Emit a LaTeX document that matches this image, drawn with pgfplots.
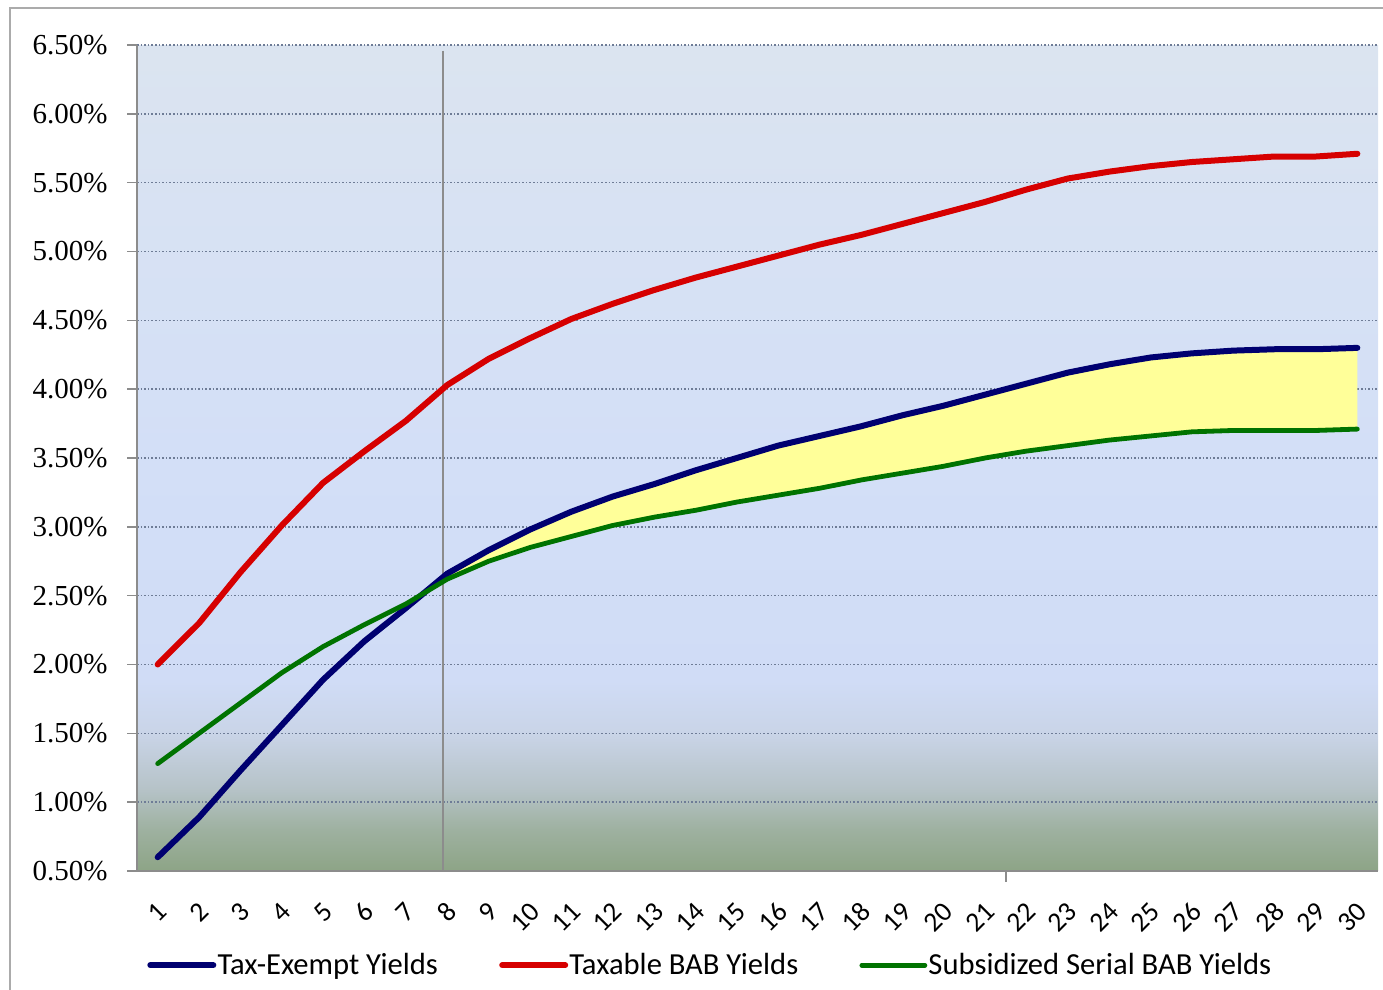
\documentclass[border=0pt]{standalone}
\usepackage{pgfplots}
\pgfplotsset{compat=1.18}
\usepackage{pgfplotstable}
\usepgfplotslibrary{fillbetween}
\usepackage{fontspec}
\setmainfont{Carlito}
\newfontfamily\yfont{Liberation Serif}

% series colours
\definecolor{taxexempt}{RGB}{0,0,112}
\definecolor{taxable}{RGB}{214,0,0}
\definecolor{subsid}{RGB}{0,115,0}
\definecolor{spread}{RGB}{255,255,153}
\definecolor{gridc}{RGB}{110,124,150}
\definecolor{axisc}{RGB}{140,140,140}

% plot-area background, green-grey at the bottom fading into blue
\definecolor{bg0}{RGB}{141,164,134}
\definecolor{bg1}{RGB}{158,177,160}
\definecolor{bg2}{RGB}{182,195,200}
\definecolor{bg3}{RGB}{201,212,231}
\definecolor{bg4}{RGB}{208,220,246}
\definecolor{bg5}{RGB}{211,223,247}
\definecolor{bg6}{RGB}{219,228,240}
\pgfdeclareverticalshading{plotbg}{100bp}{%
  color(0bp)=(bg0); color(25bp)=(bg0); color(27.5bp)=(bg1);
  color(30bp)=(bg2); color(33.3bp)=(bg3); color(36.5bp)=(bg4);
  color(50bp)=(bg5); color(75bp)=(bg6); color(100bp)=(bg6)}

% yields in percent by maturity (years)
\pgfplotstableread{
x  tax   bab   sub
1  0.60  2.00  1.28
2  0.89  2.30  1.50
3  1.23  2.67  1.72
4  1.56  3.01  1.94
5  1.89  3.32  2.13
6  2.17  3.55  2.29
7  2.41  3.77  2.44
8  2.66  4.03  2.62
9  2.83  4.22  2.75
10 2.98  4.37  2.85
11 3.11  4.51  2.93
12 3.22  4.62  3.01
13 3.31  4.72  3.07
14 3.41  4.81  3.12
15 3.50  4.89  3.18
16 3.59  4.97  3.23
17 3.66  5.05  3.28
18 3.73  5.12  3.34
19 3.81  5.20  3.39
20 3.88  5.28  3.44
21 3.96  5.36  3.50
22 4.04  5.45  3.55
23 4.12  5.53  3.59
24 4.18  5.58  3.63
25 4.23  5.62  3.66
26 4.26  5.65  3.69
27 4.28  5.67  3.70
28 4.29  5.69  3.70
29 4.29  5.69  3.70
30 4.30  5.71  3.71
}\yields

\begin{document}
\begin{tikzpicture}
% outer chart frame
\draw[color=black!33, line width=1bp] (5bp,-10bp) -- (5bp,491bp) -- (720bp,491bp);
\begin{axis}[
  at={(68.5bp,59.5bp)}, anchor=south west,
  width=620.5bp, height=413bp, scale only axis,
  clip=false,
  xmin=0.5, xmax=30.5, ymin=0.5, ymax=6.5,
  axis background/.style={shading=plotbg},
  axis x line*=bottom, axis y line*=left,
  axis line style={axisc, line width=0.8bp},
  ytick={0.5,1,1.5,2,2.5,3,3.5,4,4.5,5,5.5,6,6.5},
  yticklabels={0.50\%,1.00\%,1.50\%,2.00\%,2.50\%,3.00\%,3.50\%,4.00\%,4.50\%,5.00\%,5.50\%,6.00\%,6.50\%},
  yticklabel style={font=\yfont\fontsize{14.5bp}{16bp}\selectfont, anchor=east, inner sep=0pt, xshift=-9.5bp},
  ytick style={axisc, line width=0.8bp},
  ytick align=outside, major tick length=5bp,
  xtick={1,2,...,30},
  xtick style={draw=none},
  /pgf/number format/assume math mode=true,
  xticklabel style={font=\fontsize{13.8bp}{15bp}\selectfont, inner sep=0pt, xshift=2.5bp, yshift=-18bp, rotate=45, anchor=east},
  ymajorgrids,
  major grid style={gridc, line width=0.7bp, dash pattern=on 0.8bp off 1bp},
  legend columns=3,
  legend style={
    at={(axis description cs:0.008,-0.114)}, anchor=west,
    draw=none, fill=none, inner sep=0pt,
    font=\fontsize{15.3bp}{18bp}\selectfont,
    nodes={inner sep=0.6bp},
    /tikz/every even column/.append style={column sep=30bp},
  },
  legend cell align=left,
  legend image code/.code={\draw[#1] (0bp,0bp) -- (31.5bp,0bp);},
]
% spread between tax-exempt and subsidized yields
\addplot[draw=none, name path=te, forget plot] table[x=x, y=tax] {\yields};
\addplot[draw=none, name path=sb, forget plot] table[x=x, y=sub] {\yields};
\addplot[spread, forget plot] fill between[of=te and sb, soft clip={domain=8:30}];
% reference line at year 8
\addplot[color=black!45, line width=0.8bp, forget plot] coordinates {(7.9,6.46) (7.9,0.5)};
% lone category tick
\addplot[axisc, line width=0.8bp, forget plot] coordinates {(21.5,0.5) (21.5,0.42)};

\addplot[taxexempt, line width=3bp, line join=round, line cap=round] table[x=x, y=tax] {\yields};
\addlegendentry{Tax-Exempt Yields}
\addplot[taxable, line width=3bp, line join=round, line cap=round] table[x=x, y=bab] {\yields};
\addlegendentry{Taxable BAB Yields}
\addplot[subsid, line width=2.4bp, line join=round, line cap=round] table[x=x, y=sub] {\yields};
\addlegendentry{Subsidized Serial BAB Yields}
\end{axis}
% fixed page area
\pgfresetboundingbox
\useasboundingbox (0,0) rectangle (691.5bp,495bp);
\end{tikzpicture}
\end{document}
